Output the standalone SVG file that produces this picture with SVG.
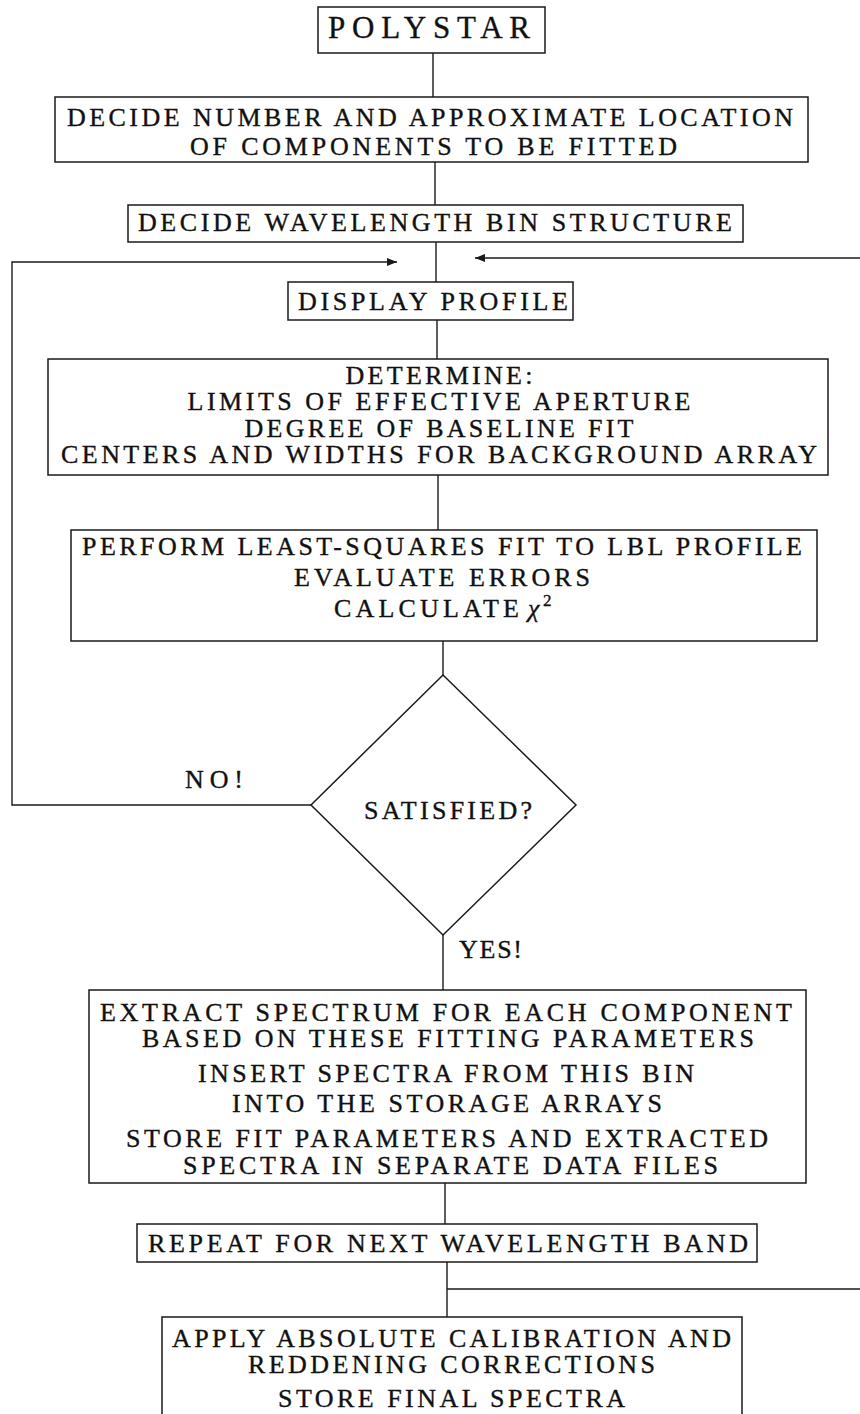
<svg xmlns="http://www.w3.org/2000/svg" width="860" height="1414" viewBox="0 0 860 1414">
<style>
.b{fill:none;stroke:#1a1a1a;stroke-width:1.5}
.c{fill:none;stroke:#1a1a1a;stroke-width:1.4}
text{font-family:"Liberation Serif","Times New Roman",serif;font-size:26px;fill:#111;stroke:#111;stroke-width:0.35}
.m{text-anchor:middle}
</style>
<defs>
<marker id="ah" viewBox="0 0 10 8" refX="10" refY="4" markerWidth="10" markerHeight="8" markerUnits="userSpaceOnUse" orient="auto"><path d="M0,0L10,4L0,8z" fill="#1a1a1a"/></marker>
</defs>
<rect width="860" height="1414" fill="#fff"/>
<g id="connectors">
<path class="c" d="M433,53V97"/>
<path class="c" d="M435,162V205"/>
<path class="c" d="M436,242V282"/>
<path class="c" d="M437,320V359"/>
<path class="c" d="M438,475V530"/>
<path class="c" d="M443,641V675"/>
<path class="c" d="M443,935V990"/>
<path class="c" d="M445,1183V1224"/>
<path class="c" d="M447,1262V1317"/>
<path class="c" d="M447,1289H860"/>
<path class="c" d="M311,805H12V262H397" marker-end="url(#ah)"/>
<path class="c" d="M860,258H475" marker-end="url(#ah)"/>
<text x="185" y="788" textLength="58" lengthAdjust="spacing">NO!</text>
<text x="459" y="958" textLength="63" lengthAdjust="spacing">YES!</text>
</g>
<g id="polystar">
<rect class="b" x="318" y="7" width="227" height="46"/>
<text x="328" y="38" textLength="202" lengthAdjust="spacing" style="font-size:31px">POLYSTAR</text>
</g>
<g id="decide-components">
<rect class="b" x="55" y="97" width="753" height="65"/>
<text x="67" y="126" textLength="726" lengthAdjust="spacing">DECIDE NUMBER AND APPROXIMATE LOCATION</text>
<text x="190" y="155" textLength="487" lengthAdjust="spacing">OF COMPONENTS TO BE FITTED</text>
</g>
<g id="decide-bins">
<rect class="b" x="128" y="205" width="615" height="37"/>
<text x="138" y="231" textLength="594" lengthAdjust="spacing">DECIDE WAVELENGTH BIN STRUCTURE</text>
</g>
<g id="display">
<rect class="b" x="288" y="282" width="285" height="38"/>
<text x="298" y="310" textLength="270" lengthAdjust="spacing">DISPLAY PROFILE</text>
</g>
<g id="determine">
<rect class="b" x="48" y="359" width="780" height="116"/>
<text class="m" x="439" y="384" textLength="187" lengthAdjust="spacing">DETERMINE:</text>
<text class="m" x="439" y="410" textLength="503" lengthAdjust="spacing">LIMITS OF EFFECTIVE APERTURE</text>
<text class="m" x="439" y="437" textLength="389" lengthAdjust="spacing">DEGREE OF BASELINE FIT</text>
<text class="m" x="439" y="463" textLength="756" lengthAdjust="spacing">CENTERS AND WIDTHS FOR BACKGROUND ARRAY</text>
</g>
<g id="perform">
<rect class="b" x="71" y="530" width="746" height="111"/>
<text x="82" y="555" textLength="720" lengthAdjust="spacing">PERFORM LEAST-SQUARES FIT TO LBL PROFILE</text>
<text class="m" x="442" y="586" textLength="296" lengthAdjust="spacing">EVALUATE ERRORS</text>
<text x="334" y="617" textLength="185" lengthAdjust="spacing">CALCULATE</text>
<text x="528" y="617" font-style="italic">χ</text>
<text x="543" y="606" style="font-size:17px">2</text>
</g>
<g id="satisfied">
<polygon class="b" points="443,675 576,805 443,935 311,805"/>
<text x="364" y="819" textLength="168" lengthAdjust="spacing">SATISFIED?</text>
</g>
<g id="extract">
<rect class="b" x="89" y="990" width="717" height="193"/>
<text x="100" y="1021" textLength="692" lengthAdjust="spacing">EXTRACT SPECTRUM FOR EACH COMPONENT</text>
<text x="142" y="1047" textLength="612" lengthAdjust="spacing">BASED ON THESE FITTING PARAMETERS</text>
<text x="198" y="1082" textLength="496" lengthAdjust="spacing">INSERT SPECTRA FROM THIS BIN</text>
<text x="232" y="1112" textLength="430" lengthAdjust="spacing">INTO THE STORAGE ARRAYS</text>
<text class="m" x="447" y="1147" textLength="642" lengthAdjust="spacing">STORE FIT PARAMETERS AND EXTRACTED</text>
<text x="183" y="1174" textLength="535" lengthAdjust="spacing">SPECTRA IN SEPARATE DATA FILES</text>
</g>
<g id="repeat">
<rect class="b" x="137" y="1224" width="620" height="38"/>
<text x="148" y="1252" textLength="600" lengthAdjust="spacing">REPEAT FOR NEXT WAVELENGTH BAND</text>
</g>
<g id="apply">
<rect class="b" x="162" y="1317" width="580" height="110"/>
<text x="172" y="1347" textLength="559" lengthAdjust="spacing">APPLY ABSOLUTE CALIBRATION AND</text>
<text x="248" y="1373" textLength="407" lengthAdjust="spacing">REDDENING CORRECTIONS</text>
<text x="278" y="1407" textLength="347" lengthAdjust="spacing">STORE FINAL SPECTRA</text>
</g>
</svg>
